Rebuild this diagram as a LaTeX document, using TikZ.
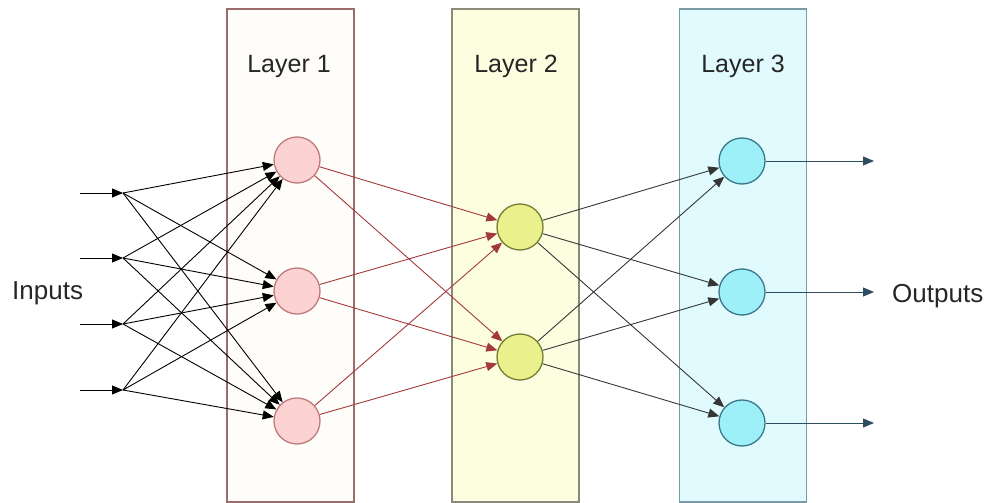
\documentclass[tikz,border=0pt]{standalone}
\usepackage{fontspec}
\setmainfont{Liberation Sans}
\usetikzlibrary{arrows.meta}

\definecolor{boxAfill}{HTML}{FFFDFA}
\definecolor{boxAline}{HTML}{9A6C6C}
\definecolor{boxBfill}{HTML}{FDFDE0}
\definecolor{boxBline}{HTML}{8A8A7A}
\definecolor{boxCfill}{HTML}{E0FAFD}
\definecolor{boxCline}{HTML}{7A9AA6}
\definecolor{nodeAfill}{HTML}{FDD2D2}
\definecolor{nodeAline}{HTML}{C07A7B}
\definecolor{nodeBfill}{HTML}{E9F08C}
\definecolor{nodeBline}{HTML}{727E34}
\definecolor{nodeCfill}{HTML}{9EF0F8}
\definecolor{nodeCline}{HTML}{3A7888}
\definecolor{edgeA}{HTML}{A23A3A}
\definecolor{edgeB}{HTML}{363636}
\definecolor{edgeC}{HTML}{2C4E5E}
\definecolor{labeltext}{HTML}{262626}

\tikzset{
  layerbox/.style={draw, line width=1.2pt, minimum width=127pt, minimum height=493pt, inner sep=0pt},
  neuron/.style={circle, draw, line width=1.3pt, minimum size=46pt, inner sep=0pt},
  title/.style={font=\fontsize{25}{30}\selectfont, text=labeltext, anchor=base, inner sep=0pt},
  sidetext/.style={font=\fontsize{26}{31}\selectfont, text=labeltext, inner sep=0pt},
  link/.style={line width=0.9pt, -{Triangle[length=11pt,width=9pt]}},
}

\begin{document}
\begin{tikzpicture}[x=1pt,y=-1pt]
\useasboundingbox (0,0) rectangle (993,503);

% layer panels
\node[layerbox, fill=boxAfill, draw=boxAline] (box1) at (290.5,255.5) {};
\node[layerbox, fill=boxBfill, draw=boxBline] (box2) at (515.5,255.5) {};
\node[layerbox, fill=boxCfill, draw=boxCline] (box3) at (743,255.5) {};

\node[title] (t1) at (289,73) {Layer 1};
\node[title] (t2) at (516,73) {Layer 2};
\node[title] (t3) at (743,73) {Layer 3};

% neurons
\node[neuron, fill=nodeAfill, draw=nodeAline] (a1) at (297,160) {};
\node[neuron, fill=nodeAfill, draw=nodeAline] (a2) at (297,291) {};
\node[neuron, fill=nodeAfill, draw=nodeAline] (a3) at (297,421) {};
\node[neuron, fill=nodeBfill, draw=nodeBline] (b1) at (520,227) {};
\node[neuron, fill=nodeBfill, draw=nodeBline] (b2) at (520,357) {};
\node[neuron, fill=nodeCfill, draw=nodeCline] (c1) at (742,161) {};
\node[neuron, fill=nodeCfill, draw=nodeCline] (c2) at (742,292) {};
\node[neuron, fill=nodeCfill, draw=nodeCline] (c3) at (742,423) {};

% input taps
\coordinate (s1) at (80,193);
\coordinate (s2) at (80,258);
\coordinate (s3) at (80,324);
\coordinate (s4) at (80,390);
\coordinate (i1) at (123,193);
\coordinate (i2) at (123,258);
\coordinate (i3) at (123,324);
\coordinate (i4) at (123,390);

% output ends
\coordinate (o1) at (874,161);
\coordinate (o2) at (874,292);
\coordinate (o3) at (874,423);

\node[sidetext, anchor=base west] (inlab) at (12,299) {Inputs};
\node[sidetext, anchor=base west] (outlab) at (892,302) {Outputs};

% inputs into the first layer
\foreach \k in {1,...,4} {
  \draw[link, black] (s\k) -- (i\k);
  \foreach \j in {1,2,3}
    \draw[link, black] (i\k) -- (a\j);
}

% first layer to second layer
\foreach \j in {1,2,3}
  \foreach \m in {1,2}
    \draw[link, edgeA] (a\j) -- (b\m);

% second layer to third layer
\foreach \m in {1,2}
  \foreach \n in {1,2,3}
    \draw[link, edgeB] (b\m) -- (c\n);

% outputs
\foreach \n in {1,2,3}
  \draw[link, edgeC] (c\n) -- (o\n);
\end{tikzpicture}
\end{document}
